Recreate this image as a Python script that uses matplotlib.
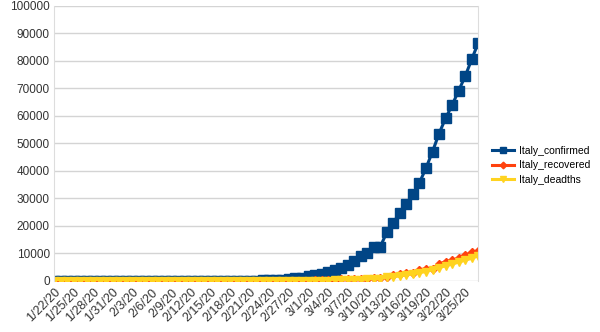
import matplotlib.pyplot as plt
import pandas as pd

dates = pd.date_range("2020-01-22", "2020-03-27")
labels = [f"{d.month}/{d.day}/{d.strftime('%y')}" for d in dates]

# daily cumulative counts, 1/22/20 .. 3/27/20
confirmed = [0] * 9 + [2] * 7 + [3] * 14 + [
    20, 62, 155, 229, 322, 453, 655, 888, 1128, 1694, 2036, 2502, 3089, 3858,
    4636, 5883, 7375, 9172, 10149, 12462, 12462, 17660, 21157, 24747, 27980,
    31506, 35713, 41035, 47021, 53578, 59138, 63927, 69176, 74386, 80589, 86498]
recovered = [0] * 31 + [
    1, 2, 1, 1, 3, 45, 46, 46, 83, 149, 160, 276, 414, 523, 589, 622, 724, 724,
    1045, 1045, 1439, 1966, 2335, 2749, 2941, 4025, 4440, 4440, 6072, 7024,
    7432, 8326, 9362, 10361, 10950]
deaths = [0] * 30 + [
    1, 2, 3, 7, 10, 12, 17, 21, 29, 34, 52, 79, 107, 148, 197, 233, 366, 463,
    631, 827, 827, 1266, 1441, 1809, 2158, 2503, 2978, 3405, 4032, 4825, 5476,
    6077, 6820, 7503, 8215, 9134]

plt.rcParams['font.family'] = ['Liberation Sans', 'DejaVu Sans']

fig = plt.figure(figsize=(6, 3.32), dpi=100)
ax = fig.add_axes([0.09, 0.154, 0.707, 0.828])

x = list(range(len(dates)))
ax.plot(x, confirmed, color='#004586', lw=2.2, marker='s', ms=6.5, label='Italy_confirmed')
ax.plot(x, recovered, color='#ff420e', lw=2.2, marker='D', ms=4.5, label='Italy_recovered')
ax.plot(x, deaths, color='#ffd320', lw=2.2, marker='v', ms=6, label='Italy_deadths')

ax.set_xlim(0, len(dates) - 1)
ax.set_ylim(0, 100000)
ax.set_yticks(range(0, 100001, 10000))
ax.set_xticks(x[::3])
ax.set_xticklabels(labels[::3], rotation=45, ha='right', rotation_mode='anchor')
ax.tick_params(axis='both', length=0, labelsize=8.5, colors='#333333')
ax.tick_params(axis='x', labelsize=9, pad=4)
ax.tick_params(axis='y', pad=3)
ax.grid(axis='y', color='#d4d4d4', lw=1)
ax.set_axisbelow(True)
for side in ['top', 'bottom']:
    ax.spines[side].set_visible(False)
for side in ['left', 'right']:
    ax.spines[side].set_color('#dddddd')

ax.legend(loc='center left', bbox_to_anchor=(1.013, 0.42), frameon=False,
          fontsize=7.5, handlelength=2.1, labelspacing=0.45, handletextpad=0.45,
          markerscale=0.75, borderpad=0.3)

fig.savefig('out.png', dpi=100)
